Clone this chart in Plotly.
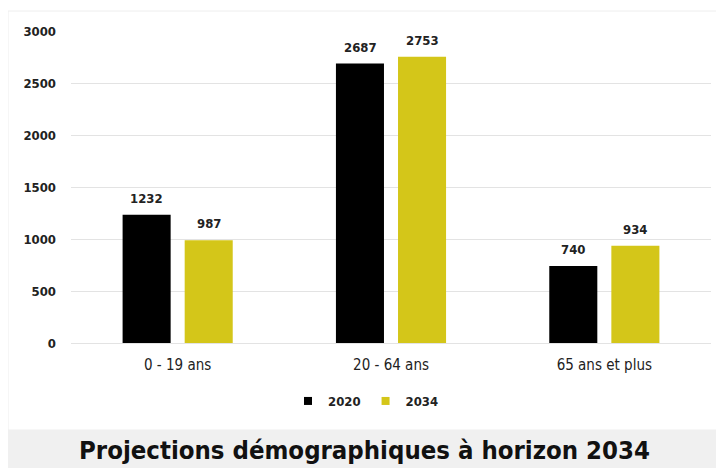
import plotly.graph_objects as go

categories = ["0 - 19 ans", "20 - 64 ans", "65 ans et plus"]
values_2020 = [1232, 2687, 740]
values_2034 = [987, 2753, 934]
series_names = ["2020", "2034"]
title_text = "Projections démographiques à horizon 2034"

FONT = "DejaVu Sans Condensed, Liberation Sans Narrow, Arial Narrow, sans-serif"
COLORS = ["#000000", "#d4c619"]

# The page has an 8px body margin, so the figure is drawn 8px smaller
W, H = 716, 460
L, T, PW, PH = 63, 23, 640, 312

def px_x(x):
    return (x - 8 - L) / PW

def px_y(y):
    return (T + PH - (y - 8)) / PH

fig = go.Figure()
annotations = []
for i, (name, vals) in enumerate(zip(series_names, [values_2020, values_2034])):
    fig.add_trace(go.Bar(
        x=categories, y=vals, name=name,
        marker=dict(color=COLORS[i], line=dict(width=0)),
        showlegend=False,
    ))
    # legend entry with a small square marker
    fig.add_trace(go.Scatter(
        x=[None], y=[None], name=name, mode="markers",
        marker=dict(symbol="square", size=8, color=COLORS[i]),
        showlegend=True,
    ))
    for c, v in zip(categories, vals):
        annotations.append(dict(
            x=c, y=v, xref="x", yref="y", text=str(v), showarrow=False,
            xanchor="center", yanchor="bottom", yshift=7, xshift=(-31 if i == 0 else 31),
            font=dict(family=FONT, size=13, color="#222222", weight="bold"),
        ))

annotations.append(dict(
    text=title_text, xref="paper", yref="paper",
    x=px_x(364), y=px_y(450), xanchor="center", yanchor="middle", showarrow=False,
    font=dict(family=FONT, size=25.5, color="#111111", weight="bold")))

fig.update_layout(
    width=W, height=H,
    margin=dict(l=L, r=W - L - PW, t=T, b=H - T - PH),
    paper_bgcolor="white", plot_bgcolor="white",
    barmode="group", bargap=0.418, bargroupgap=0.226,
    font=dict(family=FONT, color="#222222"),
    showlegend=True,
    legend=dict(orientation="h", x=px_x(366), xanchor="center", y=px_y(401), yanchor="middle",
                font=dict(family=FONT, size=13, color="#222222", weight="bold"),
                itemwidth=30, traceorder="normal"),
    xaxis=dict(showgrid=False, showline=False, ticks="", ticklabelstandoff=11,
               tickfont=dict(family=FONT, size=15, color="#222222")),
    yaxis=dict(range=[0, 3000], dtick=500, showgrid=True, gridcolor="#e3e3e3",
               gridwidth=1, zeroline=True, zerolinecolor="#e3e3e3", zerolinewidth=1,
               showline=False, ticks="", ticklabelstandoff=14,
               tickfont=dict(family=FONT, size=13, color="#222222", weight="bold")),
    shapes=[
        dict(type="rect", xref="paper", yref="paper",
             x0=px_x(8), x1=px_x(720), y0=px_y(430), y1=px_y(11),
             line=dict(color="#eeeeee", width=1), fillcolor="rgba(0,0,0,0)", layer="below"),
        dict(type="rect", xref="paper", yref="paper",
             x0=px_x(5), x1=px_x(730), y0=px_y(475), y1=px_y(430),
             line=dict(width=0), fillcolor="#f0f0f0", layer="below"),
    ],
    annotations=annotations,
)

fig.write_html("out.html")
